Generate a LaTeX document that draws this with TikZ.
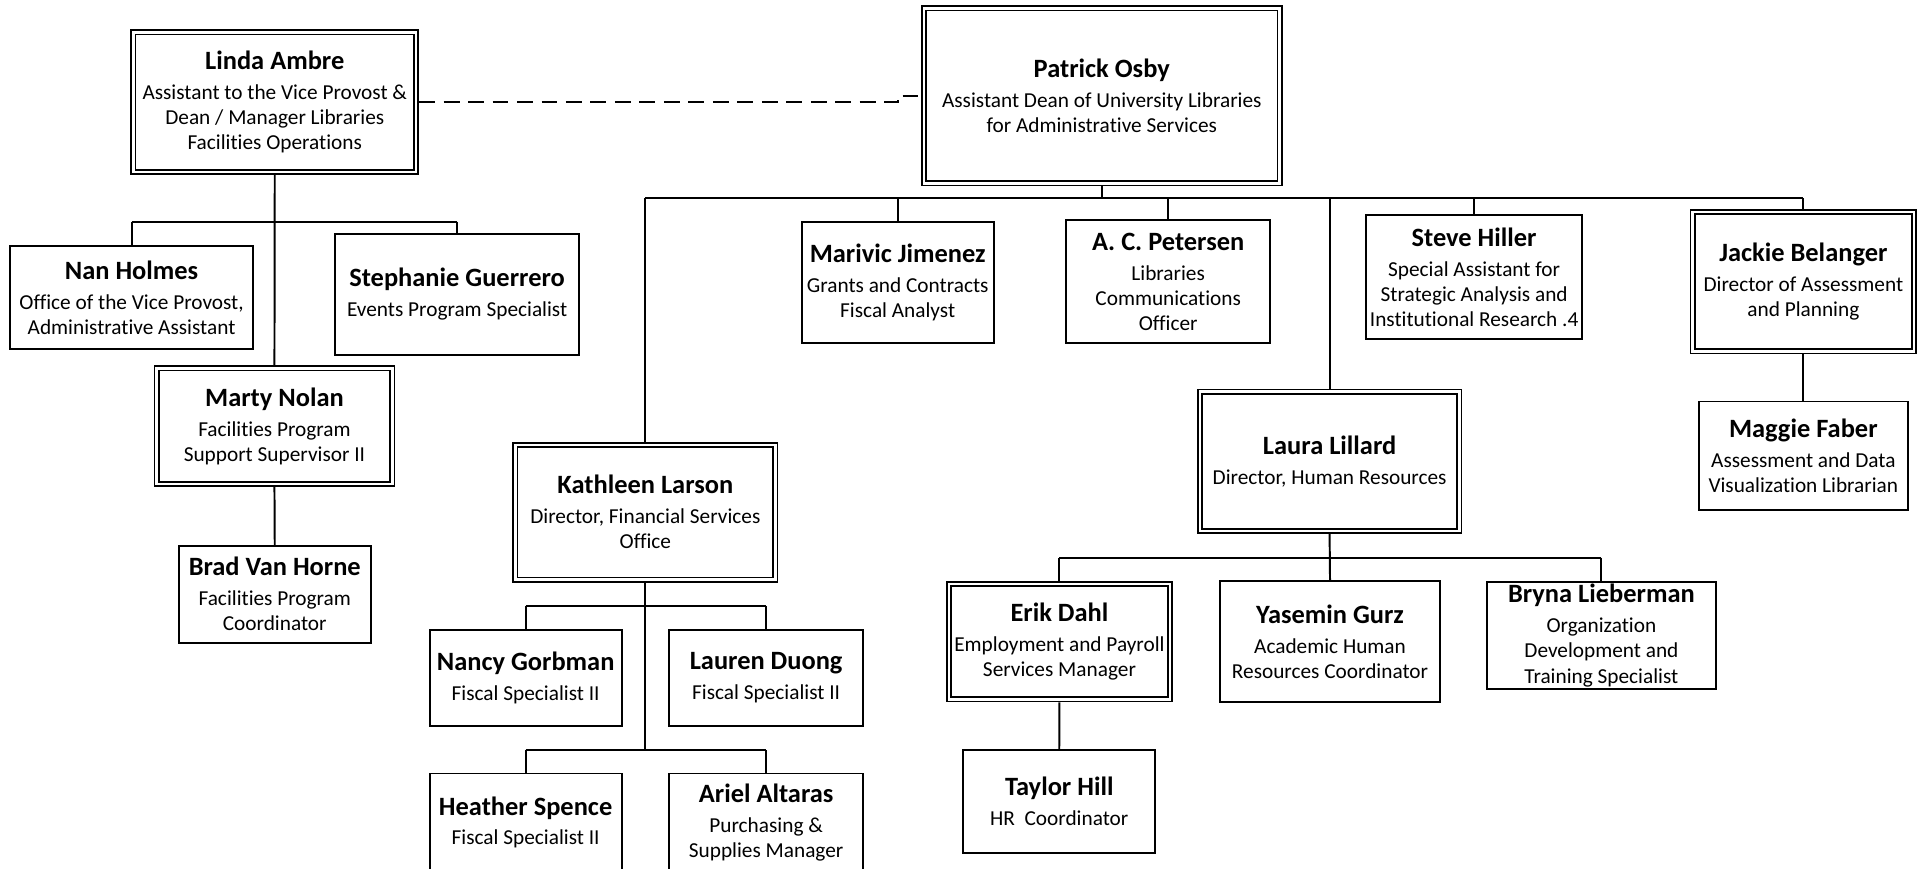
\documentclass[tikz,border=0pt]{standalone}
\usepackage{fontspec}
\setmainfont{Carlito}[Ligatures=NoCommon]
\usepackage{tikz}

\newcommand{\titlefont}{\fontsize{17.4}{20.5}\selectfont}
\newcommand{\person}[2]{{\bfseries\fontsize{21.6}{24}\selectfont #1}\\[4pt]#2}

\begin{document}
\begin{tikzpicture}[x=1pt,y=-1pt,
    box/.style={draw,line width=1.6pt,inner sep=0pt,align=center,font=\titlefont},
    lead/.style={box,double,line width=1.4pt,double distance=2.1pt,outer sep=2.45pt},
    link/.style={line width=1.6pt},
    dotline/.style={line width=1.6pt,dash pattern=on 13pt off 7pt}]
  \useasboundingbox (0,0) rectangle (1568,710);
  % facilities side, left
  \node[lead,minimum width=231pt,minimum height=114pt] (linda) at (224.5,83.4)
    {\person{Linda Ambre}{Assistant to the Vice Provost \&\\Dean / Manager Libraries\\Facilities Operations}};
  \node[box,minimum width=199pt,minimum height=84pt] (nan) at (107.5,243)
    {\person{Nan Holmes}{Office of the Vice Provost,\\Administrative Assistant}};
  \node[box,minimum width=199pt,minimum height=99pt] (steph) at (373.5,240.5)
    {\person{Stephanie Guerrero}{Events Program Specialist}};
  \node[lead,minimum width=192.5pt,minimum height=94.5pt] (marty) at (224.25,348.3)
    {\person{Marty Nolan}{Facilities Program\\Support Supervisor II}};
  \node[box,minimum width=157pt,minimum height=79pt] (brad) at (224.5,485.5)
    {\person{Brad Van Horne}{Facilities Program\\Coordinator}};
  % top of the admin services tree
  \node[lead,minimum width=290.5pt,minimum height=143pt] (osby) at (900.25,78.4)
    {\person{Patrick Osby}{Assistant Dean of University Libraries\\for Administrative Services}};
  \node[box,minimum width=157pt,minimum height=99pt] (marivic) at (733.5,230.5)
    {\person{Marivic Jimenez}{Grants and Contracts\\Fiscal Analyst}};
  \node[box,minimum width=167pt,minimum height=100.6pt] (acp) at (954.5,230.3)
    {\person{A. C. Petersen}{Libraries\\Communications\\Officer}};
  \node[box,minimum width=177pt,minimum height=100.6pt] (steve) at (1204.5,226.3)
    {\person{Steve Hiller}{Special Assistant for\\Strategic Analysis and\\Institutional Research .4}};
  \node[lead,minimum width=181pt,minimum height=114pt] (jackie) at (1473.5,230.1)
    {\person{Jackie Belanger}{Director of Assessment\\and Planning}};
  \node[box,minimum width=171pt,minimum height=88.7pt] (maggie) at (1473.5,372.4)
    {\person{Maggie Faber}{Assessment and Data\\Visualization Librarian}};
  % financial services
  \node[lead,minimum width=212.6pt,minimum height=110pt] (kath) at (527.3,418.5)
    {\person{Kathleen Larson}{Director, Financial Services\\Office}};
  \node[box,minimum width=157pt,minimum height=78pt] (nancy) at (429.5,554)
    {\person{Nancy Gorbman}{Fiscal Specialist II}};
  \node[box,minimum width=158pt,minimum height=78pt] (lauren) at (626,554)
    {\person{Lauren Duong}{Fiscal Specialist II}};
  \node[box,minimum width=157pt,minimum height=80pt] (heather) at (429.5,672)
    {\person{Heather Spence}{Fiscal Specialist II}};
  \node[box,minimum width=158pt,minimum height=80pt] (ariel) at (626,672)
    {\person{Ariel Altaras}{Purchasing \&\\Supplies Manager}};
  % human resources
  \node[lead,minimum width=212pt,minimum height=114pt] (laura) at (1086.4,377)
    {\person{Laura Lillard}{Director, Human Resources}};
  \node[lead,minimum width=180.7pt,minimum height=94.3pt] (erik) at (865.65,524.2)
    {\person{Erik Dahl}{Employment and Payroll\\Services Manager}};
  \node[box,minimum width=179.5pt,minimum height=98.6pt] (yasemin) at (1086.75,524.3)
    {\person{Yasemin Gurz}{Academic Human\\Resources Coordinator}};
  \node[box,minimum width=187pt,minimum height=87.5pt] (bryna) at (1308.5,519.25)
    {\person{Bryna Lieberman}{Organization\\Development and\\Training Specialist}};
  \node[box,minimum width=157pt,minimum height=84pt] (taylor) at (865.5,655)
    {\person{Taylor Hill}{HR\ \ Coordinator}};

  % bus lines
  \coordinate (lbus) at (224.5,181);
  \coordinate (obus) at (900.25,162);
  \coordinate (kbus1) at (527.3,495);
  \coordinate (kbus2) at (527.3,613);
  \coordinate (hbus) at (1086.4,455.7);
  \coordinate (dashbend) at (733.7,0);

  \draw[link] (linda.south) -- (marty.north);
  \draw[link] (lbus -| nan.north) -- (lbus -| steph.north);
  \foreach \n in {nan,steph} \draw[link] (lbus -| \n.north) -- (\n.north);
  \draw[link] (marty.south) -- (brad.north);

  \draw[link] (osby.south) -- (obus);
  \draw[link] (obus -| kath.north) -- (obus -| jackie.north);
  \foreach \n in {kath,marivic,acp,laura,steve,jackie} \draw[link] (obus -| \n.north) -- (\n.north);
  \draw[link] (jackie.south) -- (maggie.north);

  \draw[link] (kath.south) -- (kbus2);
  \draw[link] (kbus1 -| nancy.north) -- (kbus1 -| lauren.north);
  \draw[link] (kbus2 -| heather.north) -- (kbus2 -| ariel.north);
  \foreach \n in {nancy,lauren} \draw[link] (kbus1 -| \n.north) -- (\n.north);
  \foreach \n in {heather,ariel} \draw[link] (kbus2 -| \n.north) -- (\n.north);

  \draw[link] (laura.south) -- (yasemin.north);
  \draw[link] (hbus -| erik.north) -- (hbus -| bryna.north);
  \foreach \n in {erik,bryna} \draw[link] (hbus -| \n.north) -- (\n.north);
  \draw[link] (erik.south) -- (taylor.north);

  % dotted-line report
  \draw[dotline] (linda.east) -- (linda.east -| dashbend) |- (osby.west);
\end{tikzpicture}
\end{document}
